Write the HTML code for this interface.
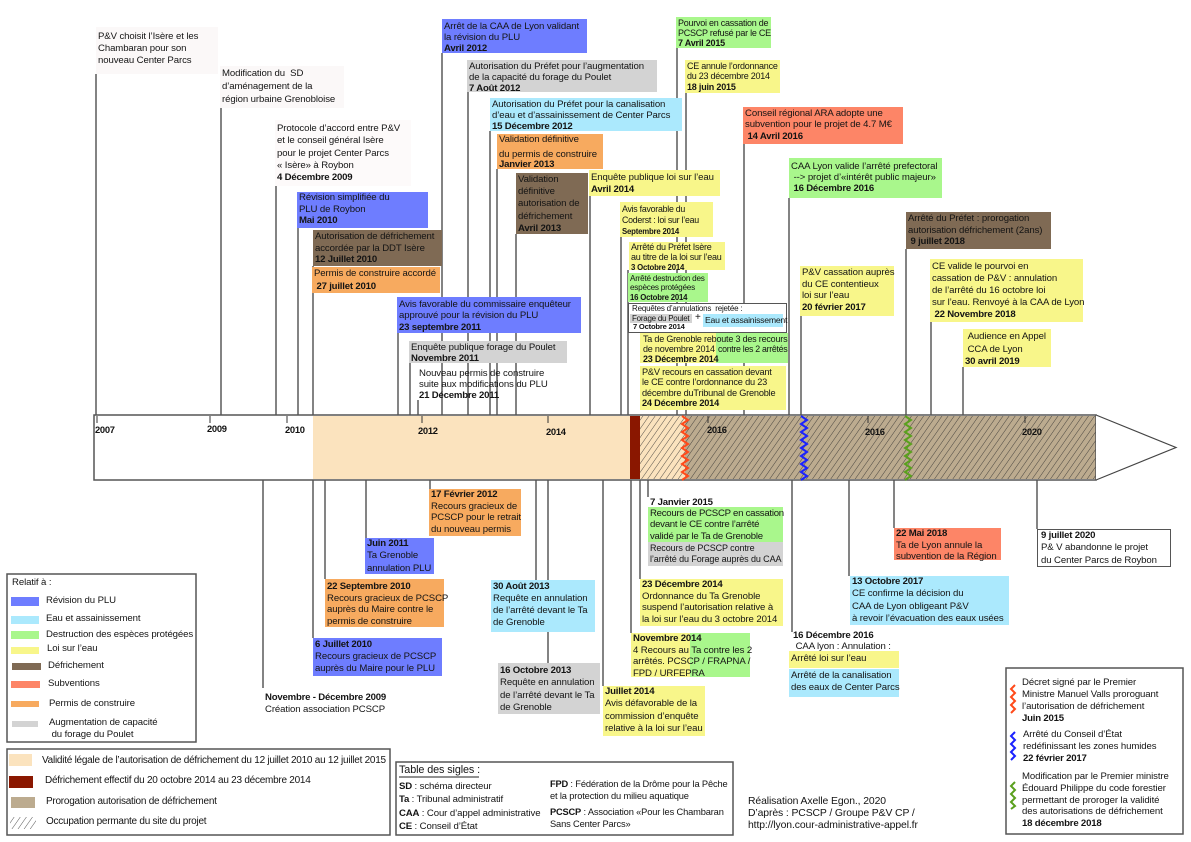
<!DOCTYPE html>
<html><head><meta charset="utf-8">
<style>
body{margin:0;width:1191px;height:842px;position:relative;overflow:hidden;background:#fff;font-family:"Liberation Sans",sans-serif;font-size:9.6px;letter-spacing:-0.1px;color:#141414}
svg{position:absolute;left:0;top:0}
.b,.t{position:absolute;box-sizing:border-box;white-space:nowrap;padding-left:2px}
b{letter-spacing:-0.2px}
.bl{background:#6e7dff}.cy{background:#abe9fd}.gr{background:#a9f78c}.ye{background:#f8f68a}.br{background:#7f6a54}.sa{background:#fd8567}.or{background:#f7aa5f}.gy{background:#d3d3d3}
.bx{position:absolute;box-sizing:border-box;border:1.5px solid #555;background:#fff}
</style></head><body>
<svg width="1191" height="842">
<defs>
<pattern id="h" width="5" height="5" patternUnits="userSpaceOnUse" patternTransform="rotate(35)"><line x1="0" y1="0" x2="0" y2="5" stroke="#2a2a2a" stroke-width="0.8"/></pattern>
</defs>
<g stroke="#5a5a5a" stroke-width="1.5">
<line x1="96" y1="74" x2="96" y2="415"/>
<line x1="221" y1="108" x2="221" y2="415"/>
<line x1="276" y1="186" x2="276" y2="415"/>
<line x1="298" y1="228" x2="298" y2="415"/>
<line x1="313" y1="266" x2="313" y2="415"/>
<line x1="398" y1="333" x2="398" y2="415"/>
<line x1="410" y1="363" x2="410" y2="415"/>
<line x1="418" y1="400" x2="418" y2="415"/>
<line x1="442" y1="53" x2="442" y2="415"/>
<line x1="468" y1="92" x2="468" y2="415"/>
<line x1="490" y1="131" x2="490" y2="415"/>
<line x1="497" y1="169" x2="497" y2="415"/>
<line x1="516" y1="234" x2="516" y2="415"/>
<line x1="590" y1="196" x2="590" y2="415"/>
<line x1="621" y1="237" x2="621" y2="415"/>
<line x1="628" y1="270" x2="628" y2="415"/>
<line x1="677" y1="48" x2="677" y2="415"/>
<line x1="686" y1="93" x2="686" y2="415"/>
<line x1="744" y1="144" x2="744" y2="415"/>
<line x1="789" y1="198" x2="789" y2="415"/>
<line x1="801" y1="316" x2="801" y2="415"/>
<line x1="906" y1="249" x2="906" y2="415"/>
<line x1="931" y1="322" x2="931" y2="415"/>
<line x1="963" y1="367" x2="963" y2="415"/>
<line x1="263" y1="480" x2="263" y2="688"/>
<line x1="313" y1="480" x2="313" y2="638"/>
<line x1="325" y1="480" x2="325" y2="579"/>
<line x1="366" y1="480" x2="366" y2="538"/>
<line x1="430" y1="480" x2="430" y2="489"/>
<line x1="536" y1="480" x2="536" y2="580"/>
<line x1="548" y1="480" x2="548" y2="663"/>
<line x1="603" y1="480" x2="603" y2="686"/>
<line x1="631" y1="480" x2="631" y2="633"/>
<line x1="640" y1="480" x2="640" y2="579"/>
<line x1="648" y1="480" x2="648" y2="497"/>
<line x1="792" y1="480" x2="792" y2="632"/>
<line x1="849" y1="480" x2="849" y2="576"/>
<line x1="894" y1="480" x2="894" y2="528"/>
<line x1="1037" y1="480" x2="1037" y2="529"/>
</g>
<!-- timeline bar -->
<rect x="94" y="415" width="1002" height="65" fill="#fff"/>
<rect x="313" y="416" width="372" height="63" fill="#fbe3be"/>
<rect x="685" y="416" width="411" height="63" fill="#bcab8f"/>
<rect x="640" y="416" width="456" height="63" fill="url(#h)"/>
<rect x="630" y="416" width="10" height="63" fill="#8a1700"/>
<rect x="94" y="415" width="1002" height="65" fill="none" stroke="#555" stroke-width="1.5"/>
<polyline points="1096,415 1176,447.5 1096,480" fill="#fff" stroke="#444" stroke-width="1.2"/>
<g stroke="#333" stroke-width="1">
<line x1="97" y1="416" x2="97" y2="423"/><line x1="210" y1="416" x2="210" y2="423"/>
<line x1="287" y1="416" x2="287" y2="423"/><line x1="422" y1="416" x2="422" y2="423"/>
<line x1="548" y1="416" x2="548" y2="423"/><line x1="708" y1="416" x2="708" y2="423"/>
<line x1="868" y1="416" x2="868" y2="423"/><line x1="1025" y1="416" x2="1025" y2="423"/>
</g>
<g font-family="Liberation Sans, sans-serif" font-size="9.4" font-weight="bold" fill="#111" letter-spacing="-0.3">
<text x="95" y="433">2007</text><text x="207" y="432">2009</text><text x="285" y="433">2010</text>
<text x="418" y="434">2012</text><text x="546" y="435">2014</text><text x="707" y="433">2016</text>
<text x="865" y="435">2016</text><text x="1022" y="435">2020</text>
</g>
<g fill="none" stroke-width="2">
<polyline stroke="#ff4a1a" points="682,416 688,420 682,424 688,428 682,432 688,436 682,440 688,444 682,448 688,452 682,456 688,460 682,464 688,468 682,472 688,476 682,480"/>
<polyline stroke="#1a22ff" points="801,416 807,420 801,424 807,428 801,432 807,436 801,440 807,444 801,448 807,452 801,456 807,460 801,464 807,468 801,472 807,476 801,480"/>
<polyline stroke="#5aa01e" points="905,416 911,420 905,424 911,428 905,432 911,436 905,440 911,444 905,448 911,452 905,456 911,460 905,464 911,468 905,472 911,476 905,480"/>
<polyline stroke="#ff4a1a" points="1015,685 1011,689 1015,693 1011,697 1015,701 1011,705 1015,709 1011,713"/>
<polyline stroke="#1a22ff" points="1015,732 1011,736 1015,740 1011,744 1015,748 1011,752 1015,756 1011,760"/>
<polyline stroke="#5aa01e" points="1015,782 1011,786 1015,790 1011,794 1015,798 1011,802 1015,806 1011,809"/>
</g>
<!-- legend boxes -->
<rect x="7" y="574" width="189" height="168" fill="none" stroke="#555" stroke-width="1.5"/>
<rect x="7" y="749" width="383" height="86" fill="none" stroke="#555" stroke-width="1.5"/>
<rect x="396" y="762" width="337" height="73" fill="none" stroke="#555" stroke-width="1.5"/>
<rect x="1006" y="668" width="177" height="166" fill="none" stroke="#555" stroke-width="1.5"/>
<rect x="11" y="597" width="28" height="9" fill="#6e7dff"/>
<rect x="11" y="616" width="28" height="8" fill="#abe9fd"/>
<rect x="11" y="631" width="28" height="8" fill="#a9f78c"/>
<rect x="11" y="647" width="28" height="7" fill="#f8f68a"/>
<rect x="12" y="663" width="29" height="7" fill="#7f6a54"/>
<rect x="11" y="681" width="29" height="7" fill="#fd8567"/>
<rect x="11" y="701" width="28" height="6" fill="#f7aa5f"/>
<rect x="12" y="721" width="26" height="6" fill="#d3d3d3"/>
<rect x="9" y="754" width="23" height="12" fill="#fbe3be"/>
<rect x="9" y="776" width="24" height="12" fill="#8a1700"/>
<rect x="11" y="797" width="24" height="11" fill="#bcab8f"/>
<rect x="10" y="817" width="26" height="12" fill="url(#h)"/>
<line x1="399" y1="777" x2="479" y2="777" stroke="#222" stroke-width="1"/>
</svg>

<!-- TOP BOXES -->
<div class="b" style="left:96px;top:27px;width:122px;height:47px;background:#fbf8f8;padding-top:4px;line-height:12px">P&amp;V choisit l’Isère et les<br>Chambaran pour son<br>nouveau Center Parcs</div>
<div class="b" style="left:220px;top:66px;width:124px;height:42px;background:#fbf8f8;padding-top:1px;line-height:13px">Modification du&nbsp; SD<br>d’aménagement de la<br>région urbaine Grenobloise</div>
<div class="b" style="left:275px;top:120px;width:136px;height:66px;background:#fdfafa;padding-top:3px;line-height:12.3px">Protocole d’accord entre P&amp;V<br>et le conseil général Isère<br>pour le projet Center Parcs<br>« Isère» à Roybon<br><b>4 Décembre 2009</b></div>
<div class="b bl" style="left:297px;top:192px;width:131px;height:36px;line-height:11.5px">Révision simplifiée du<br>PLU de Roybon<br><b>Mai 2010</b></div>
<div class="b br" style="left:313px;top:230px;width:129px;height:36px;padding-top:1px;line-height:11.7px">Autorisation de défrichement<br>accordée par la DDT Isère<br><b>12 Juillet 2010</b></div>
<div class="b or" style="left:312px;top:267px;width:128px;height:26px;line-height:13px">Permis de construire accordé<br><b>&nbsp;27 juillet 2010</b></div>
<div class="b bl" style="left:397px;top:297px;width:184px;height:36px;padding-top:1.5px;line-height:11.5px">Avis favorable du commissaire enquêteur<br>approuvé pour la révision du PLU<br><b>23 septembre 2011</b></div>
<div class="b gy" style="left:409px;top:341px;width:158px;height:22px;padding-top:0.5px;line-height:11px">Enquête publique forage du Poulet<br><b>Novembre 2011</b></div>
<div class="b" style="left:417px;top:367px;width:136px;height:33px;padding-top:0.5px;line-height:11px">Nouveau permis de construire<br>suite aux modifications du PLU<br><b>21 Décembre 2011</b></div>
<div class="b bl" style="left:442px;top:19px;width:145px;height:34px;padding-top:1.5px;line-height:11px">Arrêt de la CAA de Lyon validant<br>la révision du PLU<br><b>Avril 2012</b></div>
<div class="b gy" style="left:467px;top:60px;width:190px;height:32px;padding-top:0.5px;line-height:11px">Autorisation du Préfet pour l’augmentation<br>de la capacité du forage du Poulet<br><b>7 Août 2012</b></div>
<div class="b cy" style="left:490px;top:98px;width:192px;height:33px;padding-top:0.5px;line-height:11.3px">Autorisation du Préfet pour la canalisation<br>d’eau et d’assainissement de Center Parcs<br><b>15 Décembre 2012</b></div>
<div class="b or" style="left:497px;top:134px;width:106px;height:35px;line-height:11px"><div style="height:15px">Validation définitive</div><div style="height:11px">du permis de construire</div><div style="height:9px;line-height:9px"><b>Janvier 2013</b></div></div>
<div class="b br" style="left:516px;top:173px;width:72px;height:61px;padding-top:1px;line-height:12.2px">Validation<br>définitive<br>autorisation de<br>défrichement<br><b>Avril 2013</b></div>
<div class="b ye" style="left:589px;top:170px;width:131px;height:26px;padding-top:1.5px;line-height:12.5px">Enquête publique loi sur l’eau<br><b>Avril 2014</b></div>
<div class="b ye" style="left:620px;top:202px;width:93px;height:35px;padding-top:1.5px;line-height:11px;font-size:8.8px;letter-spacing:-0.25px">Avis favorable du<br>Coderst : loi sur l’eau<br><b style="font-size:7.8px">Septembre 2014</b></div>
<div class="b ye" style="left:629px;top:242px;width:96px;height:28px;line-height:10px;font-size:9px;letter-spacing:-0.25px">Arrêté du Préfet Isère<br>au titre de la loi sur l’eau<br><b style="font-size:7.8px">3 Octobre 2014</b></div>
<div class="b gr" style="left:628px;top:273px;width:80px;height:29px;padding-top:0.5px;line-height:9.5px;font-size:8.2px;letter-spacing:-0.25px">Arrêté destruction des<br>espèces protégées<br><b style="font-size:7.8px">16 Octobre 2014</b></div>
<div class="bx" style="left:628px;top:303px;width:159px;height:30px"></div>
<div class="t" style="left:630px;top:304px;font-size:8px;letter-spacing:-0.2px;line-height:9px">Requêtes d’annulations&nbsp; rejetée :</div>
<div class="b gy" style="left:630px;top:314px;width:62px;height:9px;font-size:8px;letter-spacing:-0.25px;line-height:9px">Forage du Poulet</div>
<div class="t" style="left:693px;top:312px;font-size:10px;line-height:12px">+</div>
<div class="b cy" style="left:703px;top:314px;width:80px;height:13px;line-height:13px;font-size:8.7px;letter-spacing:-0.25px">Eau et assainissement</div>
<div class="t" style="left:631px;top:322px;font-size:7.6px;line-height:9px"><b>7 Octobre 2014</b></div>
<div class="b gr" style="left:640px;top:333px;width:148px;height:30px"></div>
<div class="b ye" style="left:640px;top:333px;width:76px;height:30px"></div>
<div class="t" style="left:641px;top:333.5px;line-height:10.3px;font-size:9px;letter-spacing:-0.2px">Ta de Grenoble reboute 3 des recours<br>de novembre 2014<br><b>23 Décembre 2014</b></div>
<div class="t" style="left:716px;top:343.8px;line-height:10.3px;font-size:8.8px;letter-spacing:-0.3px">contre les 2 arrêtés</div>
<div class="b ye" style="left:640px;top:366px;width:146px;height:44px;padding-top:1px;line-height:10.3px;font-size:9.2px;letter-spacing:-0.2px">P&amp;V recours en cassation devant<br>le CE contre l’ordonnance du 23<br>décembre duTribunal de Grenoble<br><b>24 Décembre 2014</b></div>
<div class="b gr" style="left:676px;top:17px;width:95px;height:31px;padding-top:1px;line-height:10px;font-size:9px;letter-spacing:-0.25px">Pourvoi en cassation de<br>PCSCP refusé par le CE<br><b>7 Avril 2015</b></div>
<div class="b ye" style="left:685px;top:60px;width:95px;height:33px;padding-top:0.5px;line-height:10.5px;font-size:9px;letter-spacing:-0.25px">CE annule l’ordonnance<br>du 23 décembre 2014<br><b>18 juin 2015</b></div>
<div class="b sa" style="left:743px;top:107px;width:160px;height:37px;padding-top:0.5px;line-height:11.5px">Conseil régional ARA adopte une<br>subvention pour le projet de 4.7 M€<br><b>&nbsp;14 Avril 2016</b></div>
<div class="b gr" style="left:789px;top:158px;width:153px;height:40px;padding-top:3px;line-height:11px">CAA Lyon valide l’arrêté prefectoral<br>&nbsp;--&gt; projet d’«intérêt public majeur»<br><b>&nbsp;16 Décembre 2016</b></div>
<div class="b br" style="left:906px;top:212px;width:145px;height:37px;padding-top:1px;line-height:11.5px">Arrêté du Préfet : prorogation<br>autorisation défrichement (2ans)<br><b>&nbsp;9 juillet 2018</b></div>
<div class="b ye" style="left:800px;top:266px;width:94px;height:50px;padding-top:1px;line-height:11.7px">P&amp;V cassation auprès<br>du CE contentieux<br>loi sur l’eau<br><b>20 février 2017</b></div>
<div class="b ye" style="left:930px;top:259px;width:153px;height:63px;padding-top:2px;line-height:12px">CE valide le pourvoi en<br>cassation de P&amp;V : annulation<br>de l’arrêté du 16 octobre loi<br>sur l’eau. Renvoyé à la CAA de Lyon<br><b>&nbsp;22 Novembre 2018</b></div>
<div class="b ye" style="left:963px;top:329px;width:88px;height:38px;padding-top:2px;line-height:12.5px">&nbsp;Audience en Appel<br>&nbsp;CCA de Lyon<br><b>30 avril 2019</b></div>

<!-- BOTTOM BOXES -->
<div class="t" style="left:263px;top:692px;line-height:12px"><b>Novembre - Décembre 2009</b><br>Création association PCSCP</div>
<div class="b bl" style="left:313px;top:638px;width:129px;height:38px;padding-top:0.5px;line-height:12.3px"><b>6 Juillet 2010</b><br>Recours gracieux de PCSCP<br>auprès du Maire pour le PLU</div>
<div class="b or" style="left:325px;top:579px;width:119px;height:48px;padding-top:2px;line-height:11.7px"><b>22 Septembre 2010</b><br>Recours gracieux de PCSCP<br>auprès du Maire contre le<br>permis de construire</div>
<div class="b bl" style="left:365px;top:538px;width:69px;height:36px;line-height:12.3px"><b>Juin 2011</b><br>Ta Grenoble<br>annulation PLU</div>
<div class="b or" style="left:429px;top:489px;width:92px;height:47px;line-height:11.7px"><b>17 Février 2012</b><br>Recours gracieux de<br>PCSCP pour le retrait<br>du nouveau permis</div>
<div class="b cy" style="left:491px;top:580px;width:104px;height:52px;padding-top:1px;line-height:12px"><b>30 Août 2013</b><br>Requête en annulation<br>de l’arrêté devant le Ta<br>de Grenoble</div>
<div class="b gy" style="left:498px;top:663px;width:102px;height:51px;padding-top:1.5px;line-height:12.5px"><b>16 Octobre 2013</b><br>Requête en annulation<br>de l’arrêté devant le Ta<br>de Grenoble</div>
<div class="b ye" style="left:603px;top:686px;width:102px;height:50px;line-height:12.3px"><b>Juillet 2014</b><br>Avis défavorable de la<br>commission d’enquête<br>relative à la loi sur l’eau</div>
<div class="b ye" style="left:631px;top:633px;width:60px;height:44px"></div>
<div class="b gr" style="left:690px;top:633px;width:60px;height:44px"></div>
<div class="t" style="left:631px;top:633px;line-height:11.5px"><b>Novembre 2014</b><br>4 Recours au Ta contre les 2<br>arrêtés. PCSCP / FRAPNA /<br>FPD / URFEPRA</div>
<div class="b ye" style="left:640px;top:579px;width:143px;height:47px;line-height:11.7px"><b>23 Décembre 2014</b><br>Ordonnance du Ta Grenoble<br>suspend l’autorisation relative à<br>la loi sur l’eau du 3 octobre 2014</div>
<div class="t" style="left:648px;top:497px;line-height:11px"><b>7 Janvier 2015</b></div>
<div class="b gr" style="left:648px;top:507px;width:135px;height:35px;padding-top:0.5px;line-height:11.5px;letter-spacing:-0.25px">Recours de PCSCP en cassation<br>devant le CE contre l’arrêté<br>validé par le Ta de Grenoble</div>
<div class="b gy" style="left:648px;top:542px;width:135px;height:24px;padding-top:1px;line-height:11px;font-size:9px">Recours de PCSCP contre<br>l’arrêté du Forage auprès du CAA</div>
<div class="t" style="left:791px;top:630px;line-height:11px"><b>16 Décembre 2016</b><br>&nbsp;CAA lyon : Annulation :</div>
<div class="b ye" style="left:789px;top:651px;width:110px;height:17px;line-height:16px">Arrêté loi sur l’eau</div>
<div class="b cy" style="left:789px;top:669px;width:110px;height:28px;padding-top:0.5px;line-height:12.5px">Arrêté de la canalisation<br>des eaux de Center Parcs</div>
<div class="b cy" style="left:850px;top:576px;width:159px;height:49px;line-height:12.3px"><b>13 Octobre 2017</b><br>CE confirme la décision du<br>CAA de Lyon obligeant P&amp;V<br>à revoir l’évacuation des eaux usées</div>
<div class="b sa" style="left:894px;top:528px;width:107px;height:32px;line-height:11.5px"><b>22 Mai 2018</b><br>Ta de Lyon annule la<br>subvention de la Région</div>
<div class="bx" style="left:1037px;top:529px;width:134px;height:38px;padding-left:3px;line-height:12.3px;white-space:nowrap"><b>9 juillet 2020</b><br>P&amp; V abandonne le projet<br>du Center Parcs de Roybon</div>

<!-- LEGEND 1 -->
<div class="t" style="left:10px;top:577px;line-height:12px">Relatif à :</div>
<div class="t" style="left:44px;top:595px;line-height:12px">Révision du PLU</div>
<div class="t" style="left:44px;top:613px;line-height:12px">Eau et assainissement</div>
<div class="t" style="left:44px;top:629px;line-height:12px">Destruction des espèces protégées</div>
<div class="t" style="left:45px;top:643px;line-height:12px">Loi sur l’eau</div>
<div class="t" style="left:46px;top:660px;line-height:12px">Défrichement</div>
<div class="t" style="left:46px;top:678px;line-height:12px">Subventions</div>
<div class="t" style="left:47px;top:698px;line-height:12px">Permis de construire</div>
<div class="t" style="left:47px;top:717px;line-height:12px">Augmentation de capacité<br>&nbsp;du forage du Poulet</div>
<!-- LEGEND 2 -->
<div class="t" style="left:40px;top:755px;line-height:12px;font-size:10px;letter-spacing:-0.25px">Validité légale de l’autorisation de défrichement du 12 juillet 2010 au 12 juillet 2015</div>
<div class="t" style="left:43px;top:775px;line-height:12px;font-size:10px;letter-spacing:-0.25px">Défrichement effectif du 20 octobre 2014 au 23 décembre 2014</div>
<div class="t" style="left:44px;top:796px;line-height:12px;font-size:10px;letter-spacing:-0.25px">Prorogation autorisation de défrichement</div>
<div class="t" style="left:44px;top:816px;line-height:12px;font-size:10px;letter-spacing:-0.25px">Occupation permante du site du projet</div>
<!-- TABLE -->
<div class="t" style="left:397px;top:764px;line-height:12px;font-size:10.8px">Table des sigles :</div>
<div class="t" style="left:397px;top:780px;line-height:13.4px"><b>SD</b> : schéma directeur<br><b>Ta</b> : Tribunal administratif<br><b>CAA</b> : Cour d’appel administrative<br><b>CE</b> : Conseil d’État</div>
<div class="t" style="left:548px;top:778px;line-height:12px;font-size:9.3px;letter-spacing:-0.15px"><b>FPD</b> : Fédération de la Drôme pour la Pêche<br>et la protection du milieu aquatique</div>
<div class="t" style="left:548px;top:807px;line-height:11.5px;font-size:9.3px;letter-spacing:-0.15px"><b>PCSCP</b> : Association «Pour les Chambaran<br>Sans Center Parcs»</div>
<!-- CREDITS -->
<div class="t" style="left:746px;top:796px;line-height:12px;font-size:10.4px">Réalisation Axelle Egon., 2020<br>D’après : PCSCP / Groupe P&amp;V CP /<br>http://lyon.cour-administrative-appel.fr</div>
<!-- RIGHT LEGEND -->
<div class="t" style="left:1020px;top:677px;line-height:12px">Décret signé par le Premier<br>Ministre Manuel Valls proroguant<br>l’autorisation de défrichement<br><b>Juin 2015</b></div>
<div class="t" style="left:1021px;top:729px;line-height:12px">Arrêté du Conseil d’État<br>redéfinissant les zones humides<br><b>22 février 2017</b></div>
<div class="t" style="left:1020px;top:771px;line-height:11.8px">Modification par le Premier ministre<br>Édouard Philippe du code forestier<br>permettant de proroger la validité<br>des autorisations de défrichement<br><b>18 décembre 2018</b></div>
</body></html>
